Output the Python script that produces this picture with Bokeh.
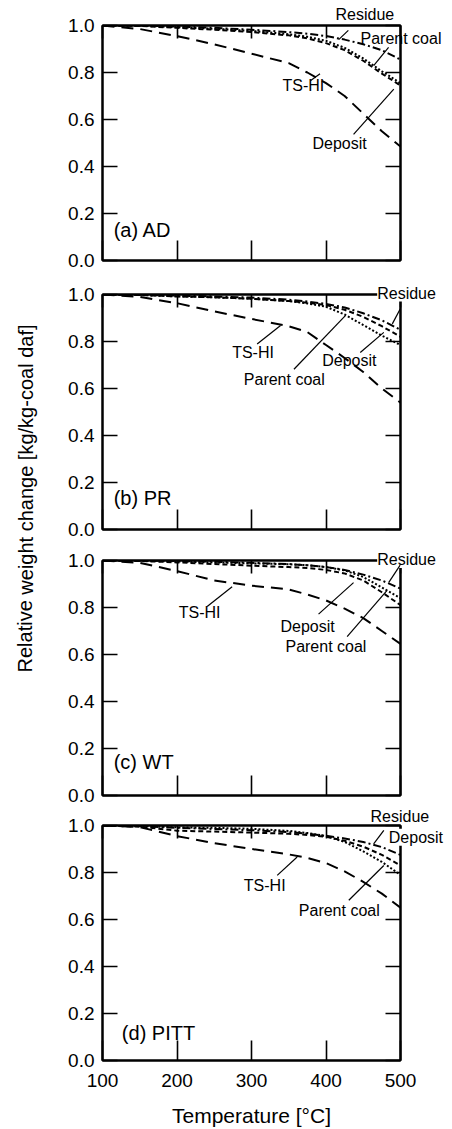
from bokeh.plotting import figure
from bokeh.layouts import column, row
from bokeh.models import LinearAxis, FixedTicker, Label, Arrow, Range1d
from bokeh.embed import file_html
from bokeh.resources import INLINE

FONT = "Liberation Sans"

# temperature grid [°C]
temp = [100, 150, 200, 250, 300, 350, 375, 400, 425, 450, 475, 500]

# (a) AD
a_tshi    = [1.0, 0.985, 0.955, 0.92, 0.88, 0.84, 0.80, 0.755, 0.70, 0.625, 0.55, 0.485]
a_deposit = [1.0, 0.998, 0.99, 0.982, 0.972, 0.958, 0.945, 0.925, 0.895, 0.85, 0.795, 0.745]
a_parent  = [1.0, 0.999, 0.993, 0.986, 0.977, 0.963, 0.952, 0.935, 0.905, 0.86, 0.805, 0.755]
a_residue = [1.0, 1.0, 0.996, 0.99, 0.982, 0.972, 0.965, 0.955, 0.94, 0.92, 0.895, 0.855]

# (b) PR
b_tshi    = [1.0, 0.99, 0.963, 0.928, 0.896, 0.865, 0.84, 0.785, 0.73, 0.67, 0.60, 0.54]
b_deposit = [1.0, 0.998, 0.992, 0.988, 0.982, 0.972, 0.965, 0.955, 0.935, 0.905, 0.865, 0.82]
b_parent  = [1.0, 0.998, 0.992, 0.988, 0.982, 0.972, 0.962, 0.948, 0.915, 0.87, 0.825, 0.785]
b_residue = [1.0, 0.999, 0.995, 0.992, 0.987, 0.978, 0.97, 0.96, 0.945, 0.92, 0.89, 0.85]

# (c) WT
c_tshi    = [1.0, 0.99, 0.955, 0.915, 0.893, 0.877, 0.855, 0.83, 0.795, 0.755, 0.70, 0.645]
c_deposit = [1.0, 0.998, 0.992, 0.985, 0.978, 0.972, 0.968, 0.96, 0.945, 0.915, 0.865, 0.81]
c_parent  = [1.0, 0.999, 0.996, 0.992, 0.988, 0.984, 0.98, 0.972, 0.958, 0.93, 0.885, 0.84]
c_residue = [1.0, 1.0, 0.998, 0.995, 0.99, 0.985, 0.98, 0.972, 0.96, 0.94, 0.915, 0.88]

# (d) PITT
d_tshi    = [1.0, 0.993, 0.955, 0.925, 0.9, 0.877, 0.862, 0.84, 0.805, 0.76, 0.71, 0.65]
d_deposit = [1.0, 0.995, 0.978, 0.974, 0.97, 0.965, 0.96, 0.952, 0.935, 0.91, 0.875, 0.83]
d_parent  = [1.0, 0.998, 0.992, 0.99, 0.986, 0.977, 0.968, 0.955, 0.93, 0.89, 0.845, 0.79]
d_residue = [1.0, 0.998, 0.99, 0.985, 0.98, 0.972, 0.965, 0.956, 0.945, 0.93, 0.908, 0.875]

x_ticks = [100, 200, 300, 400, 500]
y_ticks = [0.0, 0.2, 0.4, 0.6, 0.8, 1.0]
y_tick_labels = {0.0: "0.0", 0.2: "0.2", 0.4: "0.4", 0.6: "0.6", 0.8: "0.8", 1.0: "1.0"}
x_tick_labels = {100: "100", 200: "200", 300: "300", 400: "400", 500: "500"}

panel_titles = ["(a) AD", "(b) PR", "(c) WT", "(d) PITT"]
panel_title_pos = [(115, 0.131), (115, 0.134), (115, 0.142), (126, 0.119)]

# annotation texts: (text, T of left edge, w of centre, white background, side)
a_texts = [("Residue", 412.8, 1.047, False, "above"), ("Parent coal", 446.3, 0.943, False, "right"),
           ("TS-HI", 341.6, 0.745, False, "center"), ("Deposit", 381.9, 0.498, False, "center")]
b_texts = [("Residue", 468.7, 1.006, True, "above"), ("TS-HI", 274.0, 0.753, False, "center"),
           ("Parent coal", 289.7, 0.64, False, "center"), ("Deposit", 394.9, 0.718, False, "center")]
c_texts = [("Residue", 468.7, 1.004, True, "above"), ("TS-HI", 202.4, 0.778, False, "center"),
           ("Deposit", 338.9, 0.72, False, "center"), ("Parent coal", 345.6, 0.634, False, "center")]
d_texts = [("Residue", 459.7, 1.039, False, "above"), ("Deposit", 484.3, 0.95, True, "right"),
           ("TS-HI", 289.7, 0.746, False, "center"), ("Parent coal", 363.5, 0.64, False, "center")]

# leader lines: (T0, w0, T1, w1, side)
a_leaders = [(430, 0.979, 417, 0.94, "center"), (484, 0.907, 464, 0.829, "center"),
             (379, 0.765, 392, 0.795, "center"), (437, 0.537, 491, 0.729, "center")]
b_leaders = [(504.4, 0.967, 489, 0.875, "right"), (307.6, 0.789, 339, 0.868, "center"),
             (357, 0.682, 426, 0.91, "center"), (446, 0.753, 477.6, 0.839, "center")]
c_leaders = [(502, 0.992, 484.3, 0.907, "right"), (240.5, 0.804, 274, 0.888, "center"),
             (390, 0.772, 437, 0.906, "center"), (428.4, 0.676, 482, 0.873, "center")]
d_leaders = [(477.6, 0.979, 464, 0.922, "center"), (507, 0.915, 500, 0.875, "right"),
             (334.5, 0.788, 361.3, 0.866, "center"), (430.6, 0.682, 477.6, 0.83, "center")]

panels = [
    (a_tshi, a_deposit, a_parent, a_residue, a_texts, a_leaders),
    (b_tshi, b_deposit, b_parent, b_residue, b_texts, b_leaders),
    (c_tshi, c_deposit, c_parent, c_residue, c_texts, c_leaders),
    (d_tshi, d_deposit, d_parent, d_residue, d_texts, d_leaders),
]

# (top, bottom) borders of each panel, px
borders = [(25, 16), (18, 13), (18, 13), (17, 0)]


def style_labelled(ax, ticks, tick_in, labels):
    ax.ticker = FixedTicker(ticks=ticks)
    ax.major_tick_in = tick_in
    ax.major_tick_out = 0
    ax.minor_tick_line_color = None
    ax.axis_line_color = "black"
    ax.axis_line_width = 2
    ax.major_tick_line_color = "black"
    ax.major_tick_line_width = 1.6
    ax.major_label_overrides = labels
    ax.major_label_text_font = FONT
    ax.major_label_text_font_size = "19px"
    ax.major_label_text_color = "black"


def style_plain(ax, ticks, tick_in):
    # ticks without labels: drawn as the axis' minor ticks
    ax.ticker = FixedTicker(ticks=[], minor_ticks=ticks)
    ax.minor_tick_in = tick_in
    ax.minor_tick_out = 0
    ax.minor_tick_line_color = "black"
    ax.minor_tick_line_width = 1.6
    ax.major_tick_line_color = None
    ax.axis_line_color = "black"
    ax.axis_line_width = 2


figs = []
for i, (tshi, dep, par, res, texts, leaders) in enumerate(panels):
    top_b, bot_b = borders[i]
    last = i == 3
    p = figure(frame_width=298, frame_height=235,
               x_range=Range1d(100, 500), y_range=Range1d(0, 1.0),
               output_backend="svg", toolbar_location=None,
               min_border_left=54, min_border_right=46,
               min_border_top=top_b, min_border_bottom=bot_b)
    p.xgrid.visible = False
    p.ygrid.visible = False
    p.outline_line_color = "black"
    p.outline_line_width = 2
    p.background_fill_color = "white"
    p.border_fill_color = "white"

    style_labelled(p.yaxis[0], y_ticks, 15, y_tick_labels)
    p.yaxis[0].major_label_standoff = 8
    if last:
        style_labelled(p.xaxis[0], x_ticks, 20, x_tick_labels)
        p.xaxis[0].major_label_standoff = 13
        p.xaxis[0].axis_label = "Temperature [°C]"
        p.xaxis[0].axis_label_text_font = FONT
        p.xaxis[0].axis_label_text_font_size = "21px"
        p.xaxis[0].axis_label_text_font_style = "normal"
        p.xaxis[0].axis_label_text_color = "black"
        p.xaxis[0].axis_label_standoff = 14
    else:
        style_plain(p.xaxis[0], x_ticks, 20)
    top_ax = LinearAxis()
    style_plain(top_ax, x_ticks, 13)
    p.add_layout(top_ax, "above")
    right_ax = LinearAxis()
    style_plain(right_ax, y_ticks, 15)
    p.add_layout(right_ax, "right")

    p.line(temp, tshi, line_color="black", line_width=2, line_dash="12 7")
    p.line(temp, dep, line_color="black", line_width=2, line_dash="5 3")
    p.line(temp, par, line_color="black", line_width=2, line_dash="2 2")
    p.line(temp, res, line_color="black", line_width=2, line_dash="8 3 2 3")

    for (t0, w0, t1, w1, side) in leaders:
        p.add_layout(Arrow(end=None, x_start=t0, y_start=w0, x_end=t1, y_end=w1,
                           line_color="black", line_width=1.2), side)
    for (txt, tx, wy, bg, side) in texts:
        lab = Label(x=tx, y=wy, text=txt, text_font=FONT, text_font_size="16px",
                    text_align="left", text_baseline="middle", text_color="black")
        if bg:
            lab.background_fill_color = "white"
        p.add_layout(lab, side)
    tx, wy = panel_title_pos[i]
    p.add_layout(Label(x=tx, y=wy, text=panel_titles[i], text_font=FONT,
                       text_font_size="20px", text_align="left",
                       text_baseline="middle", text_color="black"))
    figs.append(p)

H_total = 1128
ylab = figure(width=48, height=H_total, x_range=Range1d(0, 1), y_range=Range1d(0, 1),
              output_backend="svg", toolbar_location=None,
              x_axis_location=None, y_axis_location=None, min_border=0)
ylab.xgrid.visible = False
ylab.ygrid.visible = False
ylab.outline_line_color = None
ylab.add_layout(Label(x=25 / 48, y=1 - 498 / H_total,
                      text="Relative weight change [kg/kg-coal daf]",
                      text_font=FONT, text_font_size="20px", angle=1.5707963,
                      text_align="center", text_baseline="middle", text_color="black"))

layout = row(ylab, column(*figs, spacing=0), spacing=0)
open("out.html", "w").write(file_html(layout, INLINE))
